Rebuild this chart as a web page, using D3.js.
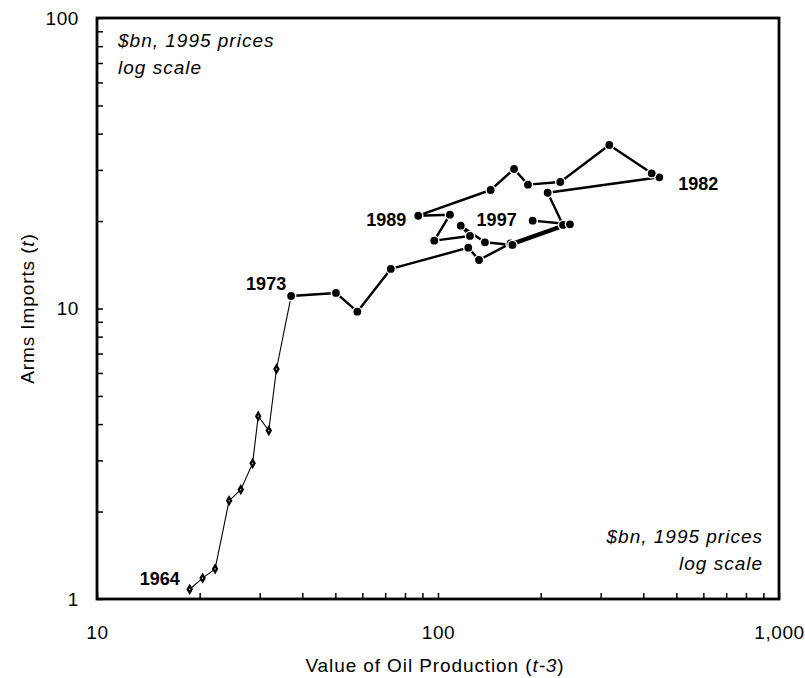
<!DOCTYPE html>
<html>
<head>
<meta charset="utf-8">
<script src="https://cdn.jsdelivr.net/npm/d3@7"></script>
<style>
  body { margin: 0; background: #fff; }
  text { font-family: "Liberation Sans", Arial, Helvetica, sans-serif; fill: #000; }
</style>
</head>
<body>
<svg id="chart" width="805" height="678"></svg>
<script>
// ---- data ----
const years = [1964,1965,1966,1967,1968,1969,1970,1971,1972,1973,
  1974,1975,1976,1977,1978,1979,1980,1981,1982,1983,1984,1985,1986,1987,1988,
  1989,1990,1991,1992,1993,1994,1995,1996,1997];
const oilValue = [18.7,20.4,22.2,24.4,26.4,28.6,29.7,31.9,33.6,37.1,
  50.2,58.0,72.7,122.7,131.9,163.2,232.6,209.7,445.7,423.3,317.9,228.4,183.6,167.1,142.7,
  87.5,108.4,97.5,124.1,116.6,137.3,165.3,243.8,189.5];
const armsImports = [1.08,1.18,1.27,2.18,2.38,2.93,4.26,3.80,6.19,11.04,
  11.31,9.75,13.68,16.19,14.69,16.75,19.39,25.03,28.29,29.2,36.54,27.26,26.69,30.21,25.58,
  20.86,21.03,17.12,17.77,19.28,16.9,16.55,19.49,20.06];
const labelYears = [1964,1973,1982,1989,1997];
const xTicks = [10,20,30,40,50,60,70,80,90,100,200,300,400,500,600,700,800,900,1000];
const xTickLabels = ["10","100","1,000"];
const yTicks = [1,2,3,4,5,6,7,8,9,10,20,30,40,50,60,70,80,90,100];
const yTickLabels = ["1","10","100"];
const annotationLines = ["$bn, 1995 prices","log scale"];
const xTitle = "Value of Oil Production (";
const yTitle = "Arms Imports (";

// ---- layout ----
const L = 97, R = 779, T = 18, B = 599;
const svg = d3.select("#chart");
const x = d3.scaleLog().domain([10,1000]).range([L,R]);
const y = d3.scaleLog().domain([1,100]).range([B,T]);

const data = years.map((yr,i)=>({year:yr, ox:oilValue[i], ay:armsImports[i]}));
const early = data.filter(d=>d.year<=1973);
const late = data.filter(d=>d.year>=1973);

const fmtLabel = (list) => v => {
  const s = d3.format(",")(v);
  return list.includes(s) ? s : "";
};

// axes
const gx = svg.append("g").attr("transform",`translate(0,${B})`)
  .call(d3.axisBottom(x).tickValues(xTicks).tickSizeInner(-6).tickSizeOuter(0)
        .tickPadding(27).tickFormat(fmtLabel(xTickLabels)));
gx.select(".domain").remove();
gx.selectAll(".tick line").attr("stroke","#000").attr("stroke-width",1.5);
gx.selectAll(".tick text").attr("font-size",19).attr("letter-spacing","0.6px")
  .attr("font-family","Liberation Sans, Arial, sans-serif");

const gy = svg.append("g").attr("transform",`translate(${L},0)`)
  .call(d3.axisLeft(y).tickValues(yTicks).tickSizeInner(-6).tickSizeOuter(0)
        .tickPadding(18).tickFormat(fmtLabel(yTickLabels)));
gy.select(".domain").remove();
gy.selectAll(".tick line").attr("stroke","#000").attr("stroke-width",1.5);
gy.selectAll(".tick text").attr("font-size",19).attr("letter-spacing","0.6px")
  .attr("font-family","Liberation Sans, Arial, sans-serif");

// frame
svg.append("rect").attr("x",L).attr("y",T).attr("width",R-L).attr("height",B-T)
  .attr("fill","none").attr("stroke","#000").attr("stroke-width",2.8);

// lines
const line = d3.line().x(d=>x(d.ox)).y(d=>y(d.ay));
svg.append("path").datum(early).attr("d",line).attr("fill","none")
  .attr("stroke","#000").attr("stroke-width",1.1);
svg.append("path").datum(late).attr("d",line).attr("fill","none")
  .attr("stroke","#000").attr("stroke-width",2.4).attr("stroke-linejoin","round");

// markers
svg.append("g").selectAll("path").data(data.filter(d=>d.year<1973)).join("path")
  .attr("transform",d=>`translate(${x(d.ox)},${y(d.ay)})`)
  .attr("d",d3.symbol(d3.symbolDiamond,13))
  .attr("fill","#fff").attr("stroke","#000").attr("stroke-width",2.3);
svg.append("g").selectAll("circle").data(late).join("circle")
  .attr("cx",d=>x(d.ox)).attr("cy",d=>y(d.ay)).attr("r",4.6)
  .attr("fill","#000").attr("stroke","#fff").attr("stroke-width",1.4);

// year labels
const labelPos = {
  1964:{dx:-10,dy:-4,anchor:"end"},
  1973:{dx:-5,dy:-6,anchor:"end"},
  1982:{dx:19,dy:13,anchor:"start"},
  1989:{dx:-12,dy:10,anchor:"end"},
  1997:{dx:-16,dy:5,anchor:"end"}
};
svg.append("g").selectAll("text").data(data.filter(d=>labelYears.includes(d.year))).join("text")
  .attr("x",d=>x(d.ox)+labelPos[d.year].dx).attr("y",d=>y(d.ay)+labelPos[d.year].dy)
  .attr("text-anchor",d=>labelPos[d.year].anchor)
  .attr("font-size",18).attr("font-weight","bold").text(d=>d.year);

// annotations
const a1 = svg.append("text").attr("font-size",19).attr("font-style","italic").attr("letter-spacing","1px");
a1.append("tspan").attr("x",118).attr("y",47).text(annotationLines[0]);
a1.append("tspan").attr("x",118).attr("y",74).text(annotationLines[1]);
const a2 = svg.append("text").attr("font-size",19).attr("font-style","italic").attr("letter-spacing","1px")
  .attr("text-anchor","end");
a2.append("tspan").attr("x",763).attr("y",543).text(annotationLines[0]);
a2.append("tspan").attr("x",763).attr("y",570).text(annotationLines[1]);

// axis titles
const xt = svg.append("text").attr("x",(L+R)/2-3).attr("y",672).attr("text-anchor","middle")
  .attr("font-size",19).attr("letter-spacing","0.9px");
xt.append("tspan").text(xTitle);
xt.append("tspan").attr("font-style","italic").text("t-3");
xt.append("tspan").text(")");

const yt = svg.append("text").attr("transform",`translate(34,${(T+B)/2}) rotate(-90)`)
  .attr("text-anchor","middle").attr("font-size",19).attr("letter-spacing","0.9px");
yt.append("tspan").text(yTitle);
yt.append("tspan").attr("font-style","italic").text("t");
yt.append("tspan").text(")");
</script>
</body>
</html>
